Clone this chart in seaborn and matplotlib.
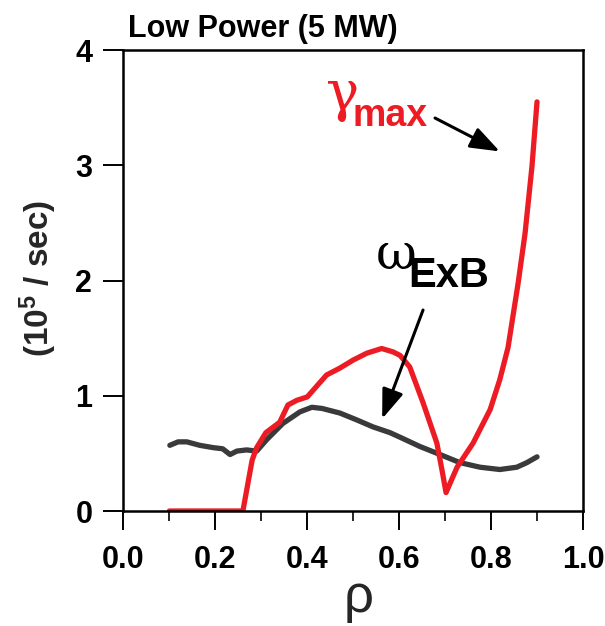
import matplotlib
matplotlib.use("Agg")
import matplotlib.pyplot as plt
import seaborn as sns
import pandas as pd

# ---- data ----
rho_gamma = [0.10, 0.26, 0.28, 0.29, 0.31, 0.34, 0.358, 0.377, 0.40, 0.442, 0.471,
             0.50, 0.53, 0.562, 0.587, 0.602, 0.623, 0.652, 0.682, 0.693, 0.702,
             0.726, 0.761, 0.798, 0.819, 0.837, 0.859, 0.874, 0.889, 0.90]
gamma_max = [0.0, 0.0, 0.44, 0.55, 0.68, 0.77, 0.92, 0.96, 0.99, 1.18, 1.24,
             1.31, 1.37, 1.41, 1.38, 1.35, 1.25, 0.94, 0.59, 0.36, 0.16,
             0.38, 0.59, 0.88, 1.14, 1.42, 1.98, 2.41, 2.99, 3.55]

rho_exb = [0.101, 0.119, 0.138, 0.166, 0.195, 0.216, 0.232, 0.247, 0.268, 0.29,
           0.312, 0.347, 0.384, 0.41, 0.432, 0.471, 0.508, 0.543, 0.58, 0.602,
           0.645, 0.689, 0.732, 0.776, 0.819, 0.856, 0.878, 0.90]
omega_exb = [0.57, 0.60, 0.60, 0.57, 0.55, 0.54, 0.49, 0.52, 0.53, 0.52,
             0.62, 0.76, 0.86, 0.90, 0.89, 0.85, 0.79, 0.73, 0.68, 0.64,
             0.56, 0.49, 0.42, 0.38, 0.36, 0.38, 0.42, 0.47]

x_ticks = [0.0, 0.2, 0.4, 0.6, 0.8, 1.0]
x_tick_labels = ["0.0", "0.2", "0.4", "0.6", "0.8", "1.0"]
x_minor = [0.1, 0.3, 0.5, 0.7, 0.9]
y_ticks = [0, 1, 2, 3, 4]
y_tick_labels = ["0", "1", "2", "3", "4"]

title = "Low Power (5 MW)"
xlabel = "ρ"
ylabel = r"(10$^{5}$ / sec)"

RED = "#ED1C24"
DARK = "#3A3A3C"

FONT = "Liberation Sans"

sns.set_theme(style="ticks")
plt.rcParams["font.family"] = [FONT, "DejaVu Sans"]
plt.rcParams["font.weight"] = "bold"
plt.rcParams["mathtext.fontset"] = "custom"
plt.rcParams["mathtext.rm"] = FONT + ":bold"
plt.rcParams["mathtext.it"] = FONT + ":bold"
plt.rcParams["mathtext.bf"] = FONT + ":bold"
plt.rcParams["mathtext.default"] = "bf"

fig = plt.figure(figsize=(6.05, 6.26), dpi=100)
ax = fig.add_axes([0.204, 0.1837, 0.7596, 0.7364])

df_g = pd.DataFrame({"rho": rho_gamma, "val": gamma_max})
df_w = pd.DataFrame({"rho": rho_exb, "val": omega_exb})
sns.lineplot(data=df_w, x="rho", y="val", color=DARK, lw=3.8, ax=ax, sort=False)
sns.lineplot(data=df_g, x="rho", y="val", color=RED, lw=3.8, ax=ax, sort=False)

ax.set_xlim(0, 1.0)
ax.set_ylim(0, 4)
ax.set_xticks(x_ticks)
ax.set_xticklabels(x_tick_labels)
ax.set_xticks(x_minor, minor=True)
ax.set_yticks(y_ticks)
ax.set_yticklabels(y_tick_labels)

for s in ax.spines.values():
    s.set_linewidth(1.8)
    s.set_color("black")
    s.set_visible(True)

ax.tick_params(axis="x", which="major", direction="out", length=13.5, width=1.4,
               pad=11, labelsize=22, colors="black")
ax.tick_params(axis="x", which="minor", direction="out", length=7, width=1.4)
ax.tick_params(axis="y", which="major", direction="out", length=14.4, width=1.4,
               pad=8, labelsize=22, colors="black")
for lab in ax.get_xticklabels() + ax.get_yticklabels():
    lab.set_fontweight("bold")

ax.set_xlabel(xlabel, fontsize=38, fontweight="normal", family="Liberation Sans")
ax.xaxis.set_label_coords(0.512, -0.135)
ax.set_ylabel(ylabel, fontsize=24, fontweight="bold")
ax.yaxis.set_label_coords(-0.14, 0.505)

ax.text(0.01, 1.028, title, transform=ax.transAxes, fontsize=22,
        fontweight="bold", ha="left", va="baseline", color="black")

# annotations
ax.text(0.441, 3.48, "γ", family="DejaVu Serif", fontsize=40,
        fontweight="normal", color=RED, ha="left", va="baseline")
ax.text(0.4995, 3.34, "max", fontsize=27, fontweight="bold", color=RED,
        ha="left", va="baseline")
ax.text(0.548, 2.10, "ω", family="DejaVu Serif", fontsize=36,
        fontweight="normal", color="black", ha="left", va="baseline")
ax.text(0.619, 1.94, "ExB", fontsize=30, fontweight="bold", color="black",
        ha="left", va="baseline")

ax.annotate("", xy=(0.819, 3.12), xytext=(0.678, 3.41),
            arrowprops=dict(arrowstyle="-|>,head_length=1.5,head_width=0.55",
                            lw=2.2, color="black", shrinkA=0, shrinkB=0))
ax.annotate("", xy=(0.563, 0.80), xytext=(0.652, 1.744),
            arrowprops=dict(arrowstyle="-|>,head_length=1.5,head_width=0.55",
                            lw=2.2, color="black", shrinkA=0, shrinkB=0))

fig.savefig("out.png", dpi=100, facecolor="white")
